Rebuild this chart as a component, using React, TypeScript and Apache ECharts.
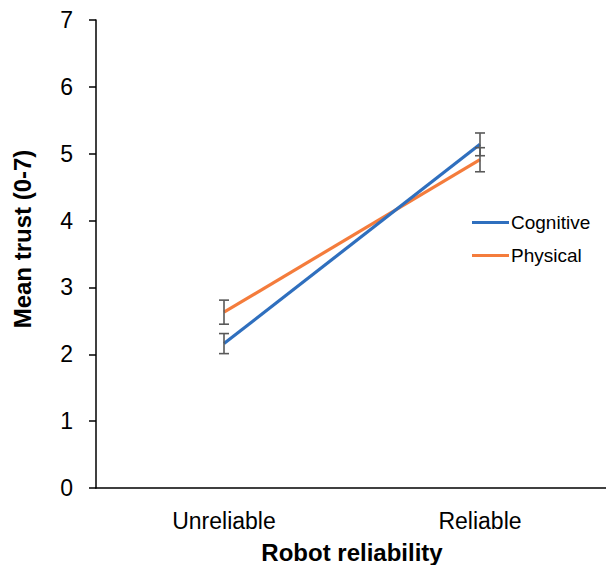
import React, { useEffect, useRef } from "react";
import * as echarts from "echarts";

const categories = ["Unreliable", "Reliable"];
const cognitive = [2.16, 5.14];
const physical = [2.63, 4.91];
const cognitiveErr = [0.15, 0.17];
const physicalErr = [0.18, 0.18];
const yTicks = [0, 1, 2, 3, 4, 5, 6, 7];

const BLUE = "#2F6FBE";
const ORANGE = "#F47C3C";
const FONT = "Liberation Sans, Arial, sans-serif";

export default function App() {
  const ref = useRef<HTMLDivElement>(null);
  useEffect(() => {
    if (!ref.current) return;
    const chart = echarts.init(ref.current, undefined, { renderer: "svg" });
    const errData = (vals: number[], errs: number[]) =>
      vals.map((v, i) => [i, v - errs[i], v + errs[i]]);
    const renderErr = (params: any, api: any) => {
      const x = api.value(0);
      const lo = api.coord([x, api.value(1)]);
      const hi = api.coord([x, api.value(2)]);
      const cap = 5;
      const style = { stroke: "#595959", lineWidth: 1.6 };
      return {
        type: "group",
        children: [
          { type: "line", shape: { x1: lo[0], y1: lo[1], x2: hi[0], y2: hi[1] }, style },
          { type: "line", shape: { x1: lo[0] - cap, y1: lo[1], x2: lo[0] + cap, y2: lo[1] }, style },
          { type: "line", shape: { x1: hi[0] - cap, y1: hi[1], x2: hi[0] + cap, y2: hi[1] }, style },
        ],
      };
    };
    chart.setOption({
      animation: false,
      backgroundColor: "#fff",
      textStyle: { fontFamily: FONT },
      grid: { left: 96, top: 20, width: 512, height: 468, outerBoundsMode: "none", containLabel: false },
      legend: {
        data: ["Cognitive", "Physical"],
        orient: "vertical",
        left: 472,
        top: 213,
        padding: 0,
        icon: "rect",
        itemWidth: 37,
        itemHeight: 3,
        itemGap: 14,
        textStyle: { fontSize: 19, color: "#000", fontFamily: FONT, padding: [0, 0, 0, -3] },
      },
      xAxis: {
        type: "category",
        data: categories,
        boundaryGap: true,
        axisLine: { lineStyle: { color: "#000", width: 1.5 } },
        axisTick: { show: false },
        axisLabel: { fontSize: 23, color: "#000", margin: 21, fontFamily: FONT },
        name: "Robot reliability",
        nameLocation: "middle",
        nameGap: 52,
        nameTextStyle: { fontSize: 24, fontWeight: "bold", color: "#000", fontFamily: FONT },
      },
      yAxis: {
        type: "value",
        min: yTicks[0],
        max: yTicks[yTicks.length - 1],
        interval: 1,
        splitLine: { show: false },
        axisLine: { show: true, lineStyle: { color: "#000", width: 1.5 } },
        axisTick: { show: true, inside: false, length: 7, lineStyle: { color: "#000", width: 1.5 } },
        axisLabel: { fontSize: 23, color: "#000", margin: 23, fontFamily: FONT },
      },
      graphic: [
        {
          type: "text",
          x: 22,
          y: 239,
          rotation: Math.PI / 2,
          style: {
            text: "Mean trust (0-7)",
            font: `bold 24px ${FONT}`,
            fill: "#000",
            align: "center",
            verticalAlign: "middle",
          },
        },
      ],
      series: [
        {
          name: "Cognitive",
          type: "line",
          data: cognitive,
          symbol: "none",
          lineStyle: { color: BLUE, width: 3.2 },
          itemStyle: { color: BLUE },
          z: 3,
        },
        {
          name: "Physical",
          type: "line",
          data: physical,
          symbol: "none",
          lineStyle: { color: ORANGE, width: 3.2 },
          itemStyle: { color: ORANGE },
          z: 2,
        },
        {
          name: "CognitiveErr",
          type: "custom",
          renderItem: renderErr,
          data: errData(cognitive, cognitiveErr),
          z: 4,
        },
        {
          name: "PhysicalErr",
          type: "custom",
          renderItem: renderErr,
          data: errData(physical, physicalErr),
          z: 4,
        },
      ],
    });
    return () => chart.dispose();
  }, []);
  return (
    <div
      ref={ref}
      style={{ position: "fixed", left: 0, top: 0, width: 606, height: 565, background: "#fff" }}
    />
  );
}
